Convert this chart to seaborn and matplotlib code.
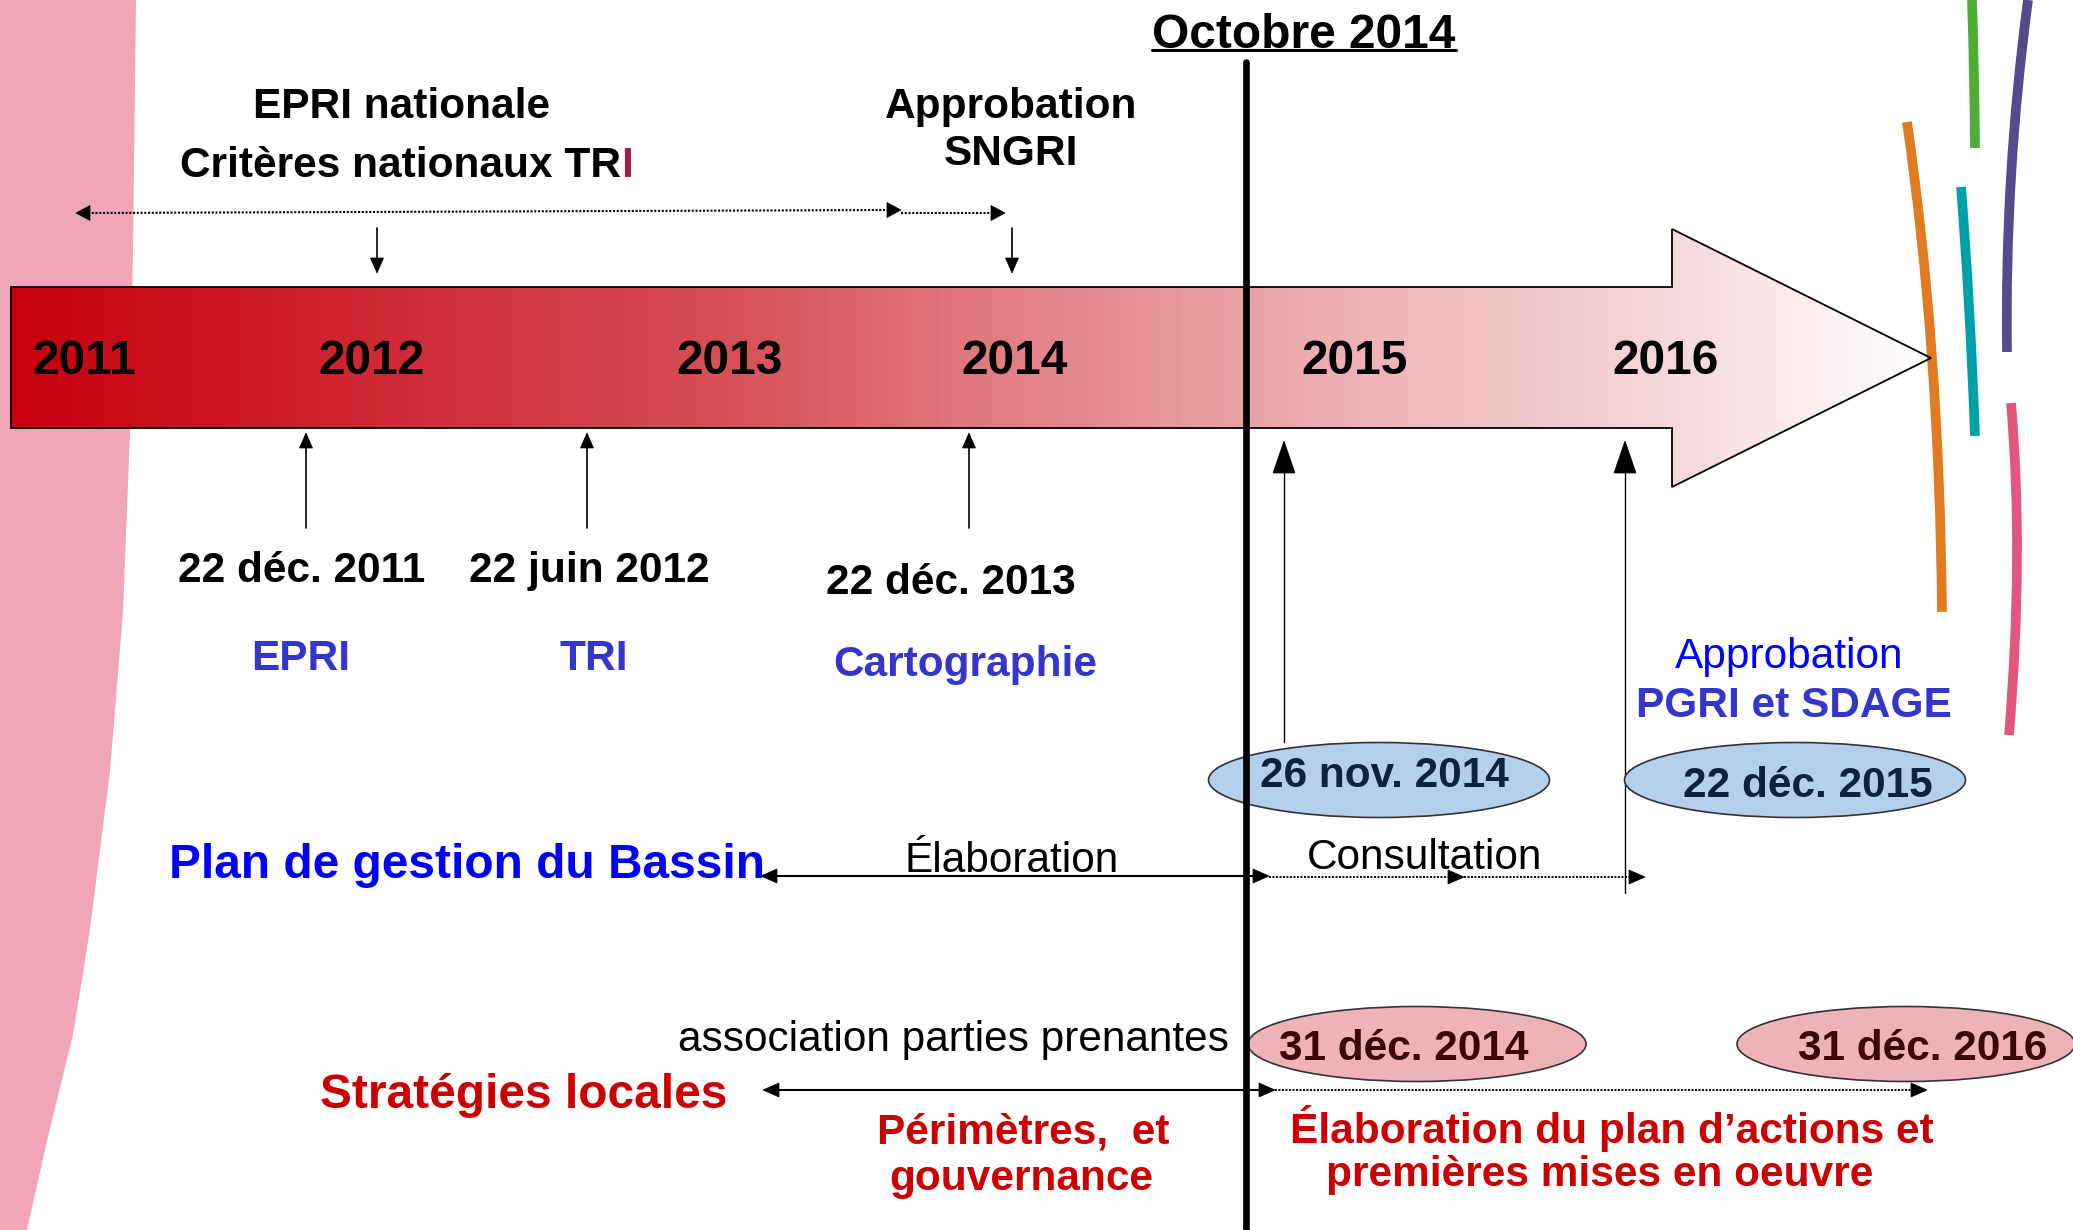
import numpy as np
import matplotlib.pyplot as plt
import seaborn as sns
from matplotlib.patches import Polygon, Ellipse, PathPatch
from matplotlib.path import Path
from matplotlib.colors import LinearSegmentedColormap

# ==========================================
# DONNEES (positions en pixels de l'image 2073x1230)
# ==========================================
W, H = 2073, 1230

years = ["2011", "2012", "2013", "2014", "2015", "2016"]
year_x = [84, 371, 730, 1015, 1355, 1666]
year_y = 358

milestone_dates = ["22 déc. 2011", "22 juin 2012", "22 déc. 2013"]
milestone_x = [302, 589, 951]
milestone_y = [567, 567, 579]
milestone_names = ["EPRI", "TRI", "Cartographie"]
milestone_name_x = [301, 594, 965]
milestone_name_y = [655, 655, 661]
milestone_arrow_x = [306, 587, 969]

top_arrow_x = [377, 1012]

pgb_dates = ["26 nov. 2014", "22 déc. 2015"]
pgb_ell_x = [1379, 1795]
pgb_text_x = [1384, 1808]
pgb_text_y = [772, 782]
pgb_arrow_x = [1284, 1625]
pgb_arrow_bottom = [742, 893]

sl_dates = ["31 déc. 2014", "31 déc. 2016"]
sl_ell_x = [1417, 1906]
sl_text_x = [1404, 1923]

# arcs colorés à droite : début, milieu, fin (x, y)
arc_orange = [(1907, 122), (1932, 357), (1942, 612)]
arc_green = [(1972, 0), (1974, 74), (1975, 148)]
arc_teal = [(1961, 187), (1969, 306), (1975, 436)]
arc_purple = [(2028, 0), (2011, 176), (2007, 352)]
arc_pink = [(2011, 403), (2017, 561), (2009, 735)]
arc_colors = ["#e07b22", "#4caf35", "#00a0a8", "#574a8c", "#e0567f"]

band_x = [0, 136, 133, 130, 123, 110, 90, 73, 47, 27, 0]
band_y = [0, 0, 250, 432, 612, 771, 929, 1035, 1141, 1230, 1230]

BLUE = "#0000ff"
BLUE2 = "#3535cc"
RED = "#cc0000"
TEXT_DY = 4


def line(ax, xs, ys, lw=1.2, ls="-", color="black", z=4):
    sns.lineplot(x=xs, y=ys, sort=False, estimator=None, color=color,
                 linewidth=lw, linestyle=ls, ax=ax, legend=False, zorder=z)


def arc(ax, pts, color, lw=7, z=1):
    (x0, y0), (xm, ym), (x2, y2) = pts
    cx = 2 * xm - (x0 + x2) / 2
    cy = 2 * ym - (y0 + y2) / 2
    path = Path([(x0, y0), (cx, cy), (x2, y2)],
                [Path.MOVETO, Path.CURVE3, Path.CURVE3])
    ax.add_patch(PathPatch(path, facecolor="none", edgecolor=color, lw=lw,
                           capstyle="butt", zorder=z))


def head(ax, x, y, d, length, width, color="black", z=4):
    if d == "right":
        pts = [(x, y), (x - length, y - width / 2), (x - length, y + width / 2)]
    elif d == "left":
        pts = [(x, y), (x + length, y - width / 2), (x + length, y + width / 2)]
    elif d == "up":
        pts = [(x, y), (x - width / 2, y + length), (x + width / 2, y + length)]
    else:
        pts = [(x, y), (x - width / 2, y - length), (x + width / 2, y - length)]
    ax.add_patch(Polygon(pts, closed=True, facecolor=color, edgecolor=color,
                         lw=0.5, zorder=z))


def txt(ax, x, y, s, size=30.5, color="black", weight="bold", ha="center", z=6):
    return ax.text(x, y + TEXT_DY, s, fontsize=size, color=color,
                   fontweight=weight, ha=ha, va="center", zorder=z)


def main():
    sns.set_theme(style="white")
    plt.rcParams["font.family"] = ["Liberation Sans", "DejaVu Sans"]

    fig = plt.figure(figsize=(W / 100, H / 100), dpi=100)
    ax = fig.add_axes([0, 0, 1, 1])
    ax.set_xlim(0, W)
    ax.set_ylim(H, 0)
    ax.axis("off")

    # bande rose à gauche
    ax.fill(band_x, band_y, color="#f0a6b6", lw=0, zorder=0)

    # grande flèche en dégradé
    arrow_pts = [(11, 287), (1672, 287), (1672, 229), (1931, 358),
                 (1672, 487), (1672, 428), (11, 428)]
    arrow = Polygon(arrow_pts, closed=True, facecolor="none",
                    edgecolor="black", lw=1.3, zorder=2)
    ax.add_patch(arrow)
    cmap = LinearSegmentedColormap.from_list(
        "bar",
        [(0.0, (200/255, 0, 15/255)), (0.375, (214/255, 80/255, 88/255)),
         (0.523, (226/255, 128/255, 133/255)), (0.70, (237/255, 178/255, 182/255)),
         (0.862, (245/255, 215/255, 218/255)), (1.0, (1, 1, 1))])
    grad = np.linspace(0, 1, 512)[None, :]
    im = ax.imshow(grad, cmap=cmap, extent=(11, 1931, 487, 229),
                   aspect="auto", zorder=1)
    im.set_clip_path(arrow)
    ax.set_xlim(0, W)
    ax.set_ylim(H, 0)

    for yr, x in zip(years, year_x):
        txt(ax, x, year_y, yr, size=34.5)

    # arcs colorés
    for pts, c in zip([arc_orange, arc_green, arc_teal, arc_purple, arc_pink],
                      arc_colors):
        arc(ax, pts, c)

    # ligne Octobre 2014
    line(ax, [1246, 1246], [62, 1230], lw=4.8, z=5)
    t = txt(ax, 1304, 31, "Octobre 2014", size=34.5)
    fig.canvas.draw()
    bb = t.get_window_extent()
    inv = ax.transData.inverted()
    x0 = inv.transform((bb.x0, bb.y0))[0]
    x1 = inv.transform((bb.x1, bb.y0))[0]
    line(ax, [x0, x1], [50, 50], lw=2.2, z=6)

    # haut : EPRI nationale / SNGRI
    txt(ax, 402, 103, "EPRI nationale")
    txt(ax, 621, 162, "Critères nationaux TR", ha="right")
    txt(ax, 621, 162, "I", ha="left", color="#a01e46")
    txt(ax, 1011, 103, "Approbation")
    txt(ax, 1011, 150, "SNGRI")

    line(ax, [88, 889], [213, 210], lw=1.5, ls=(0, (1, 0.8)))
    head(ax, 76, 213, "left", 14, 15)
    head(ax, 901, 210, "right", 14, 15)
    line(ax, [901, 993], [213, 213], lw=1.5, ls=(0, (1, 0.8)))
    head(ax, 1005, 213, "right", 14, 15)
    for x in top_arrow_x:
        line(ax, [x, x], [228, 260], lw=1.2)
        head(ax, x, 273, "down", 15, 13)

    # jalons sous la flèche
    for d, x, y in zip(milestone_dates, milestone_x, milestone_y):
        txt(ax, x, y, d)
    for n, x, y in zip(milestone_names, milestone_name_x, milestone_name_y):
        txt(ax, x, y, n, color=BLUE2)
    for x in milestone_arrow_x:
        line(ax, [x, x], [528, 445], lw=1.2)
        head(ax, x, 433, "up", 15, 13)

    # Plan de gestion du Bassin
    txt(ax, 1789, 653, "Approbation", color=BLUE, weight="normal")
    txt(ax, 1794, 702, "PGRI et SDAGE", color=BLUE2)
    for x, yb in zip(pgb_arrow_x, pgb_arrow_bottom):
        line(ax, [x, x], [yb, 470], lw=1.0, z=2)
        head(ax, x, 441, "up", 32, 22)
    for d, ex, tx, ty in zip(pgb_dates, pgb_ell_x, pgb_text_x, pgb_text_y):
        ax.add_patch(Ellipse((ex, 780), 341, 75, facecolor="#b4cfec",
                             edgecolor="#333333", lw=1.2, zorder=3))
        txt(ax, tx, ty, d, color="#0c2340")

    txt(ax, 467, 862, "Plan de gestion du Bassin", size=34.5, color=BLUE)
    txt(ax, 1012, 857, "Élaboration", weight="normal")
    line(ax, [775, 1255], [876, 876], lw=1.5)
    head(ax, 761, 876, "left", 16, 14)
    head(ax, 1269, 876, "right", 16, 14)
    txt(ax, 1425, 854, "Consultation", weight="normal")
    line(ax, [1269, 1450], [877, 877], lw=1.4, ls=(0, (1, 0.8)))
    head(ax, 1464, 877, "right", 16, 14)
    line(ax, [1464, 1630], [877, 877], lw=1.4, ls=(0, (1, 0.8)))
    head(ax, 1645, 877, "right", 16, 14)

    # Stratégies locales
    for d, ex, tx in zip(sl_dates, sl_ell_x, sl_text_x):
        ax.add_patch(Ellipse((ex, 1044), 338, 75, facecolor="#eeb3b6",
                             edgecolor="#333333", lw=1.2, zorder=3))
        txt(ax, tx, 1045, d, color="#3a0808")
    txt(ax, 953, 1036, "association parties prenantes", weight="normal")
    txt(ax, 524, 1091, "Stratégies locales", size=34.5, color=RED)
    line(ax, [777, 1261], [1090, 1090], lw=1.5)
    head(ax, 763, 1090, "left", 16, 14)
    head(ax, 1275, 1090, "right", 16, 14)
    line(ax, [1275, 1913], [1090, 1090], lw=1.4, ls=(0, (1, 0.8)))
    head(ax, 1927, 1090, "right", 16, 14)
    txt(ax, 1023, 1128, "Périmètres,  et", color=RED)
    txt(ax, 1021, 1175, "gouvernance", color=RED)
    txt(ax, 1612, 1125, "Élaboration du plan d’actions et", color=RED)
    txt(ax, 1600, 1171, "premières mises en oeuvre", color=RED)

    fig.savefig("out.png", dpi=100)
    plt.close(fig)


if __name__ == "__main__":
    main()
